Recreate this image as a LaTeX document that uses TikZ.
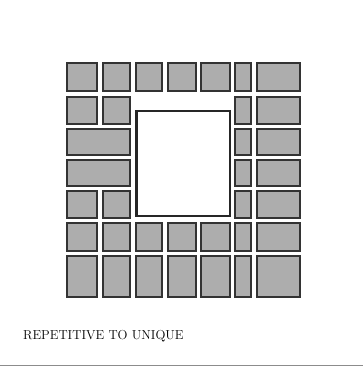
\documentclass[tikz,border=0pt]{standalone}

\begin{document}
\begin{tikzpicture}[x=1pt, y=-1pt,
    tile/.style={draw=black!80, fill=black!32, line width=2.2pt},
    hole/.style={draw=black!85, fill=white, line width=2.8pt}]
  \useasboundingbox (0,0) rectangle (363,373);
  % rows that are full
  \foreach \ya/\yb in {63/91, 223/251, 256/297}
    \foreach \xa/\xb in {67/97, 103/130, 136/162, 168/196, 201/230, 235/251, 257/300}
      \draw[tile] (\xa,\ya) rectangle (\xb,\yb);
  % rows round the hole
  \foreach \ya/\yb in {97/124, 191/218}
    \foreach \xa/\xb in {67/97, 103/130, 235/251, 257/300}
      \draw[tile] (\xa,\ya) rectangle (\xb,\yb);
  \foreach \ya/\yb in {129/155, 160/186}
    \foreach \xa/\xb in {67/130, 235/251, 257/300}
      \draw[tile] (\xa,\ya) rectangle (\xb,\yb);
  % the hole
  \draw[hole] (136.5,111) rectangle (230,216);
  % caption
  \node[anchor=base west, inner sep=0pt, font=\fontsize{13}{15}\selectfont] (caption) at (23,339) {REPETITIVE TO UNIQUE};
  \draw[black!45, line width=1pt] (0,365.5) -- (363,365.5);
\end{tikzpicture}
\end{document}
